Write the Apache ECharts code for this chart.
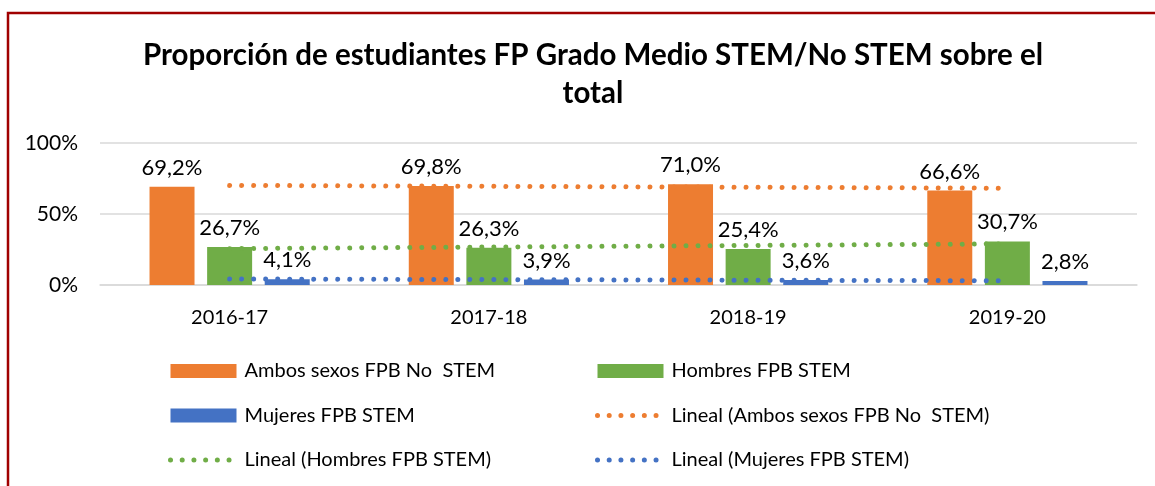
<!DOCTYPE html>
<html>
<head>
<meta charset="utf-8">
<script src="https://cdn.jsdelivr.net/npm/echarts@6/dist/echarts.min.js"></script>
<style>
  html, body { margin: 0; padding: 0; background: #fff; }
  #chart { width: 1155px; height: 486px; }
</style>
</head>
<body>
<div id="chart"></div>
<script>
// Course years on the category axis
const categories = ['2016-17', '2017-18', '2018-19', '2019-20'];
// Share of students (%) per group
const ambosNoStem = [69.2, 69.8, 71.0, 66.6];
const hombresStem = [26.7, 26.3, 25.4, 30.7];
const mujeresStem = [4.1, 3.9, 3.6, 2.8];
// Value axis ticks
const yTicks = [0, 50, 100];

const FONT = 'Lato';
const ORANGE = '#ED7D31', GREEN = '#70AD47', BLUE = '#4472C4';
const DOTS = { width: 5, type: [0.01, 12], cap: 'round' };

// Least-squares linear trend evaluated at each category position
function linearTrend(values) {
  const n = values.length;
  const xs = values.map((_, i) => i + 1);
  const mx = xs.reduce((a, b) => a + b, 0) / n;
  const my = values.reduce((a, b) => a + b, 0) / n;
  let sxy = 0, sxx = 0;
  xs.forEach((x, i) => { sxy += (x - mx) * (values[i] - my); sxx += (x - mx) * (x - mx); });
  const slope = sxy / sxx;
  return xs.map(x => my + slope * (x - mx));
}

const pct = v => v.toFixed(1).replace('.', ',') + '%';

const barLabel = {
  show: true, position: 'top', distance: 8,
  fontFamily: FONT, fontSize: 22, color: '#000',
  formatter: p => pct(p.value)
};

function barSeries(name, data, color) {
  return {
    name, type: 'bar', data, barWidth: 45, barGap: '28%',
    itemStyle: { color }, label: barLabel, z: 2
  };
}

function trendSeries(name, data, color) {
  return {
    name, type: 'line', data: linearTrend(data), symbol: 'none', z: 5,
    lineStyle: Object.assign({ color }, DOTS),
    itemStyle: { color }, silent: true
  };
}

const names = [
  'Ambos sexos FPB No  STEM', 'Hombres FPB STEM', 'Mujeres FPB STEM',
  'Lineal (Ambos sexos FPB No  STEM)', 'Lineal (Hombres FPB STEM)', 'Lineal (Mujeres FPB STEM)'
];
const colors = [ORANGE, GREEN, BLUE, ORANGE, GREEN, BLUE];

// Legend entry: solid rectangle for bars, dotted line for trends
function legendItem(i) {
  if (i < 3) return { name: names[i], icon: 'rect' };
  return {
    name: names[i],
    itemStyle: { opacity: 0 },
    lineStyle: Object.assign({ color: colors[i], opacity: 1 }, DOTS, { type: [0.01, 11.7] })
  };
}

const legendBase = {
  orient: 'vertical', top: 361, padding: 0, itemWidth: 66, itemHeight: 14, itemGap: 24.5,
  textStyle: { fontFamily: FONT, fontSize: 20, color: '#000', padding: [0, 0, 0, 3] },
  selectedMode: false
};

const option = {
  animation: false,
  backgroundColor: '#fff',
  title: {
    text: 'Proporción de estudiantes FP Grado Medio STEM/No STEM sobre el\ntotal',
    left: 588, top: 31, textAlign: 'center',
    textStyle: { fontFamily: FONT, fontWeight: 'bold', fontSize: 29.5, lineHeight: 38, color: '#000' }
  },
  graphic: [{
    type: 'rect', silent: true,
    shape: { x: 8, y: 13, width: 1300, height: 700 },
    style: { fill: 'none', stroke: '#A00000', lineWidth: 2.5 }
  }],
  legend: [
    Object.assign({}, legendBase, { left: 168, data: [0, 2, 4].map(legendItem) }),
    Object.assign({}, legendBase, { left: 595, data: [1, 3, 5].map(legendItem) })
  ],
  grid: { left: 100, right: 18, top: 143, bottom: 201 },
  xAxis: {
    type: 'category', data: categories,
    axisLine: { lineStyle: { color: '#D9D9D9', width: 1.5 } },
    axisTick: { show: false },
    axisLabel: { fontFamily: FONT, fontSize: 20, color: '#000', margin: 23 }
  },
  yAxis: {
    type: 'value', min: yTicks[0], max: yTicks[yTicks.length - 1], interval: yTicks[1] - yTicks[0],
    axisLine: { show: false }, axisTick: { show: false },
    splitLine: { lineStyle: { color: '#D9D9D9', width: 1.5 } },
    axisLabel: { fontFamily: FONT, fontSize: 21, color: '#000', margin: 22, formatter: v => v + '%' }
  },
  series: [
    barSeries(names[0], ambosNoStem, ORANGE),
    barSeries(names[1], hombresStem, GREEN),
    barSeries(names[2], mujeresStem, BLUE),
    trendSeries(names[3], ambosNoStem, ORANGE),
    trendSeries(names[4], hombresStem, GREEN),
    trendSeries(names[5], mujeresStem, BLUE)
  ]
};

const chart = echarts.init(document.getElementById('chart'), null, { renderer: 'canvas' });
chart.setOption(option);
</script>
</body>
</html>
